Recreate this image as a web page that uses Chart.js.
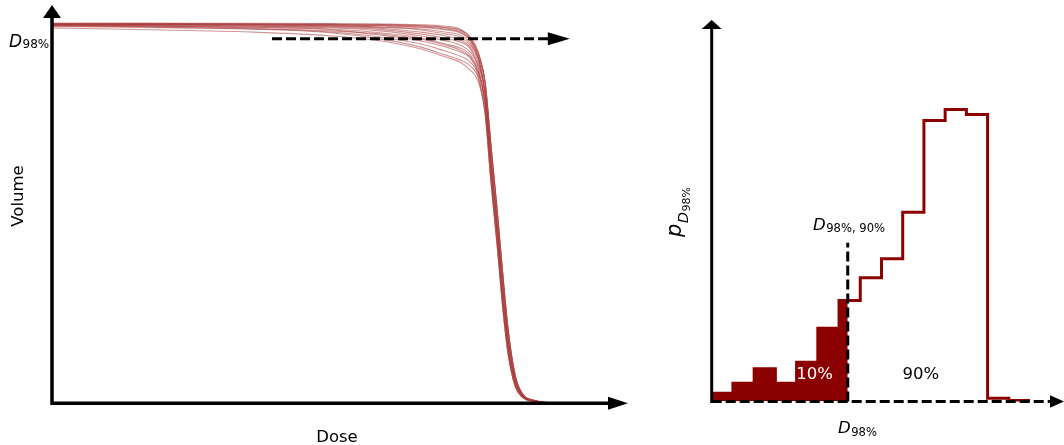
<!DOCTYPE html>
<html>
<head>
<meta charset="utf-8">
<script src="https://cdn.jsdelivr.net/npm/chart.js@4.4.1/dist/chart.umd.min.js"></script>
<style>
html, body { margin: 0; padding: 0; background: #fff; }
#wrap { position: relative; width: 1064px; height: 445px; }
canvas { position: absolute; top: 0; }
</style>
</head>
<body>
<div id="wrap">
	<canvas id="dvh" width="660" height="445" style="left:0;width:660px;height:445px"></canvas>
	<canvas id="hist" width="404" height="445" style="left:660px;width:404px;height:445px"></canvas>
</div>
<script>
// ------ DATA ------//

// left panel: dose-volume curves (dose % of axis, volume %)
var doseGrid = [0, 17, 34.4, 48.3, 56.9, 63.9, 68.2, 70.8, 72.6, 74, 75.2, 76.2, 77.3, 78.3, 79.2, 80.4, 81.6, 83.9, 86.5];
var tailA = [84.2, 67.9, 50.5, 33.2, 19.2, 7.4, 2.6, 0.7, 0.1];
var tailB = [81.3, 64.2, 46.8, 29.5, 16.6, 6.1, 2.2, 0.5, 0.1];
var tailC = [78.7, 61.3, 43.9, 26.6, 14.5, 5.3, 2.0, 0.5, 0.1];
var tailD = [76.1, 58.4, 41.3, 24.5, 12.9, 4.5, 1.7, 0.4, 0.1];
var dvhCurves = [
	[99.9, 99.9, 99.9, 99.8, 99.7, 99.5, 99.1, 98.4, 96.3, 92.4].concat(tailA),
	[99.7, 99.7, 99.7, 99.6, 99.5, 99.2, 98.7, 97.9, 95.8, 91.8].concat(tailA),
	[99.7, 99.7, 99.6, 99.5, 99.2, 98.8, 98.2, 97.4, 95.3, 90.8].concat(tailB),
	[99.6, 99.6, 99.5, 99.3, 98.9, 98.4, 97.6, 96.8, 94.7, 90.3].concat(tailB),
	[99.7, 99.6, 99.5, 99.2, 98.8, 98.2, 97.1, 96.3, 94.2, 90.8].concat(tailA),
	[99.5, 99.5, 99.3, 99.1, 98.6, 97.6, 96.6, 95.5, 93.7, 89.5].concat(tailB),
	[99.6, 99.5, 99.2, 98.9, 98.3, 97.1, 95.9, 95.0, 93.2, 88.4].concat(tailC),
	[99.5, 99.3, 99.1, 98.7, 97.9, 96.6, 95.3, 94.2, 92.4, 88.7].concat(tailB),
	[99.3, 99.2, 98.9, 98.4, 97.4, 96.1, 94.5, 93.4, 91.6, 87.6].concat(tailC),
	[99.5, 99.2, 98.8, 98.2, 96.8, 95.3, 93.7, 92.4, 90.8, 86.8].concat(tailC),
	[99.2, 99.1, 98.6, 97.6, 96.3, 94.5, 92.6, 91.3, 89.7, 86.1].concat(tailD),
	[99.3, 98.9, 98.4, 97.4, 95.8, 93.7, 91.6, 90.3, 88.7, 85.5].concat(tailD),
	[98.7, 98.2, 97.6, 96.6, 95.3, 93.2, 91.1, 89.7, 87.6, 84.5].concat(tailD),
	[99.9, 99.9, 99.7, 99.7, 99.6, 99.3, 98.8, 98.2, 96.1, 92.1].concat(tailA),
	[99.7, 99.7, 99.7, 99.5, 99.3, 98.9, 98.4, 97.6, 95.5, 91.1].concat(tailB),
	[99.1, 98.8, 98.4, 97.9, 97.1, 95.8, 94.2, 92.9, 91.1, 87.1].concat(tailC)
];
var d98Level = 95.8;        // volume level of the dashed arrow
var d98ArrowFrom = 38.2;    // dose where the dashed arrow starts
var d98ArrowTo = 89.9;      // dose where it ends

// right panel: histogram of D98% (bins, density %)
var binEdges = [0, 1, 2, 3, 4, 5, 6, 7, 8, 9, 10, 11, 12, 13, 14, 15];
var binDensity = [0.52, 1.14, 2.03, 1.14, 2.44, 4.56, 6.28, 7.69, 8.88, 11.77, 17.48, 18.16, 17.85, 0.2, 0.06];
var d98Quantile = 6.41;     // D98%,90% position in bins
var quantileTop = 9.88;     // height of the dashed marker
var areaLabels = ['10%', '90%'];
var areaLabelX = [4.85, 9.85];

// ------ HELPERS ------//
var FONT = '"DejaVu Sans", sans-serif';

function subText(ctx, x, y, main, sub, mainSize, subSize, color, drop){
	ctx.save();
	ctx.fillStyle = color;
	ctx.textBaseline = 'alphabetic';
	ctx.textAlign = 'left';
	ctx.font = 'italic ' + mainSize + 'px ' + FONT;
	ctx.fillText(main, x, y);
	var w = ctx.measureText(main).width;
	ctx.font = subSize + 'px ' + FONT;
	ctx.fillText(sub, x + w + 0.5, y + drop);
	ctx.restore();
}

function arrowHead(ctx, tipX, tipY, dir, len, half){
	ctx.beginPath();
	if(dir === 'up'){
		ctx.moveTo(tipX, tipY);
		ctx.lineTo(tipX - half, tipY + len);
		ctx.lineTo(tipX + half, tipY + len);
	}else{
		ctx.moveTo(tipX, tipY);
		ctx.lineTo(tipX - len, tipY - half);
		ctx.lineTo(tipX - len, tipY + half);
	}
	ctx.closePath();
	ctx.fill();
}

// ------ LEFT: DVH ------//
var dvhSets = dvhCurves.map(function(vol){
	return {
		data: doseGrid.map(function(d, i){ return {x: d, y: vol[i]}; }),
		borderColor: 'rgba(172, 60, 60, 0.55)',
		borderWidth: 1.1,
		pointRadius: 0,
		cubicInterpolationMode: 'monotone',
		fill: false
	};
});

var dvhDecor = {
	id: 'dvhDecor',
	afterDatasetsDraw: function(chart){
		var ctx = chart.ctx, a = chart.chartArea;
		var xs = chart.scales.x, ys = chart.scales.y;
		ctx.save();
		ctx.fillStyle = '#000';
		ctx.strokeStyle = '#000';
		// axes
		ctx.lineWidth = 3.5;
		ctx.beginPath();
		ctx.moveTo(a.left, a.bottom);
		ctx.lineTo(a.left, a.top + 10);
		ctx.moveTo(a.left - 1.75, a.bottom);
		ctx.lineTo(a.right - 14, a.bottom);
		ctx.stroke();
		arrowHead(ctx, a.left, a.top, 'up', 13, 9);
		arrowHead(ctx, a.right, a.bottom, 'right', 20, 6.5);
		// dashed arrow at D98%
		var yy = ys.getPixelForValue(d98Level);
		var x0 = xs.getPixelForValue(d98ArrowFrom), x1 = xs.getPixelForValue(d98ArrowTo);
		ctx.lineWidth = 3;
		ctx.setLineDash([10, 4]);
		ctx.beginPath();
		ctx.moveTo(x0, yy);
		ctx.lineTo(x1 - 16, yy);
		ctx.stroke();
		ctx.setLineDash([]);
		arrowHead(ctx, x1, yy, 'right', 22, 6.5);
		// labels
		subText(ctx, 9, 47, 'D', '98%', 17, 12, '#000', 1.3);
		ctx.font = '16.5px ' + FONT;
		ctx.textAlign = 'center';
		ctx.textBaseline = 'alphabetic';
		ctx.fillText('Dose', 337, 442);
		ctx.translate(23, 196);
		ctx.rotate(-Math.PI / 2);
		ctx.fillText('Volume', 0, 0);
		ctx.restore();
	}
};

new Chart(document.getElementById('dvh'), {
	type: 'line',
	data: { datasets: dvhSets },
	options: {
		responsive: false,
		devicePixelRatio: 1,
		animation: false,
		layout: { padding: { left: 52, right: 32, top: 5, bottom: 41.7 } },
		plugins: { legend: { display: false }, tooltip: { enabled: false } },
		scales: {
			x: { type: 'linear', min: 0, max: 100, display: false },
			y: { type: 'linear', min: 0, max: 104.7, display: false }
		}
	},
	plugins: [dvhDecor]
});

// ------ RIGHT: histogram ------//
var outline = binEdges.map(function(e, i){
	return {x: e, y: binDensity[Math.min(i, binDensity.length - 1)]};
});
var filled = [];
binEdges.forEach(function(e, i){
	if(e <= d98Quantile) filled.push({x: e, y: binDensity[i]});
});
filled.push({x: d98Quantile, y: binDensity[Math.floor(d98Quantile)]});

var histDecor = {
	id: 'histDecor',
	afterDatasetsDraw: function(chart){
		var ctx = chart.ctx, a = chart.chartArea;
		var xs = chart.scales.x, ys = chart.scales.y;
		ctx.save();
		ctx.fillStyle = '#000';
		ctx.strokeStyle = '#000';
		// y axis
		ctx.lineWidth = 3;
		ctx.beginPath();
		ctx.moveTo(a.left, a.bottom + 1.5);
		ctx.lineTo(a.left, a.top + 8);
		ctx.stroke();
		arrowHead(ctx, a.left, a.top, 'up', 9, 10);
		// dashed x axis
		ctx.setLineDash([10, 4]);
		ctx.beginPath();
		ctx.moveTo(a.left, a.bottom);
		ctx.lineTo(a.right - 12, a.bottom);
		ctx.stroke();
		// dashed quantile marker
		var qx = xs.getPixelForValue(d98Quantile);
		ctx.beginPath();
		ctx.moveTo(qx, a.bottom);
		ctx.lineTo(qx, ys.getPixelForValue(quantileTop));
		ctx.stroke();
		ctx.setLineDash([]);
		arrowHead(ctx, a.right, a.bottom, 'right', 14, 6.2);
		// labels
		subText(ctx, 153, 230, 'D', '98%, 90%', 16.5, 11.6, '#000', 1.8);
		subText(ctx, 178, 432.5, 'D', '98%', 16.5, 11.6, '#000', 3);
		ctx.font = '16.5px ' + FONT;
		ctx.textAlign = 'center';
		ctx.textBaseline = 'alphabetic';
		ctx.fillStyle = '#fff';
		ctx.fillText(areaLabels[0], xs.getPixelForValue(areaLabelX[0]), 379);
		ctx.fillStyle = '#000';
		ctx.fillText(areaLabels[1], xs.getPixelForValue(areaLabelX[1]), 379);
		// rotated y label p_{D98%}
		ctx.translate(21, 237);
		ctx.rotate(-Math.PI / 2);
		ctx.textAlign = 'left';
		ctx.font = 'italic 21px ' + FONT;
		ctx.fillText('p', 0, 0);
		var pw = ctx.measureText('p').width;
		ctx.font = 'italic 14.5px ' + FONT;
		ctx.fillText('D', pw + 0.5, 7);
		var dw = ctx.measureText('D').width;
		ctx.font = '11px ' + FONT;
		ctx.fillText('98%', pw + dw + 1, 9);
		ctx.restore();
	}
};

new Chart(document.getElementById('hist'), {
	type: 'line',
	data: {
		datasets: [
			{
				data: filled,
				stepped: 'before',
				borderWidth: 0,
				borderColor: 'rgba(0,0,0,0)',
				backgroundColor: '#8b0000',
				fill: 'origin',
				pointRadius: 0
			},
			{
				data: outline,
				stepped: 'before',
				borderColor: '#8b0000',
				borderWidth: 3,
				fill: false,
				pointRadius: 0
			}
		]
	},
	options: {
		responsive: false,
		devicePixelRatio: 1,
		animation: false,
		layout: { padding: { left: 51.7, right: 0, top: 20, bottom: 43.5 } },
		plugins: { legend: { display: false }, tooltip: { enabled: false } },
		scales: {
			x: { type: 'linear', min: 0, max: 16.6, display: false },
			y: { type: 'linear', min: 0, max: 23.73, display: false }
		}
	},
	plugins: [histDecor]
});
</script>
</body>
</html>
